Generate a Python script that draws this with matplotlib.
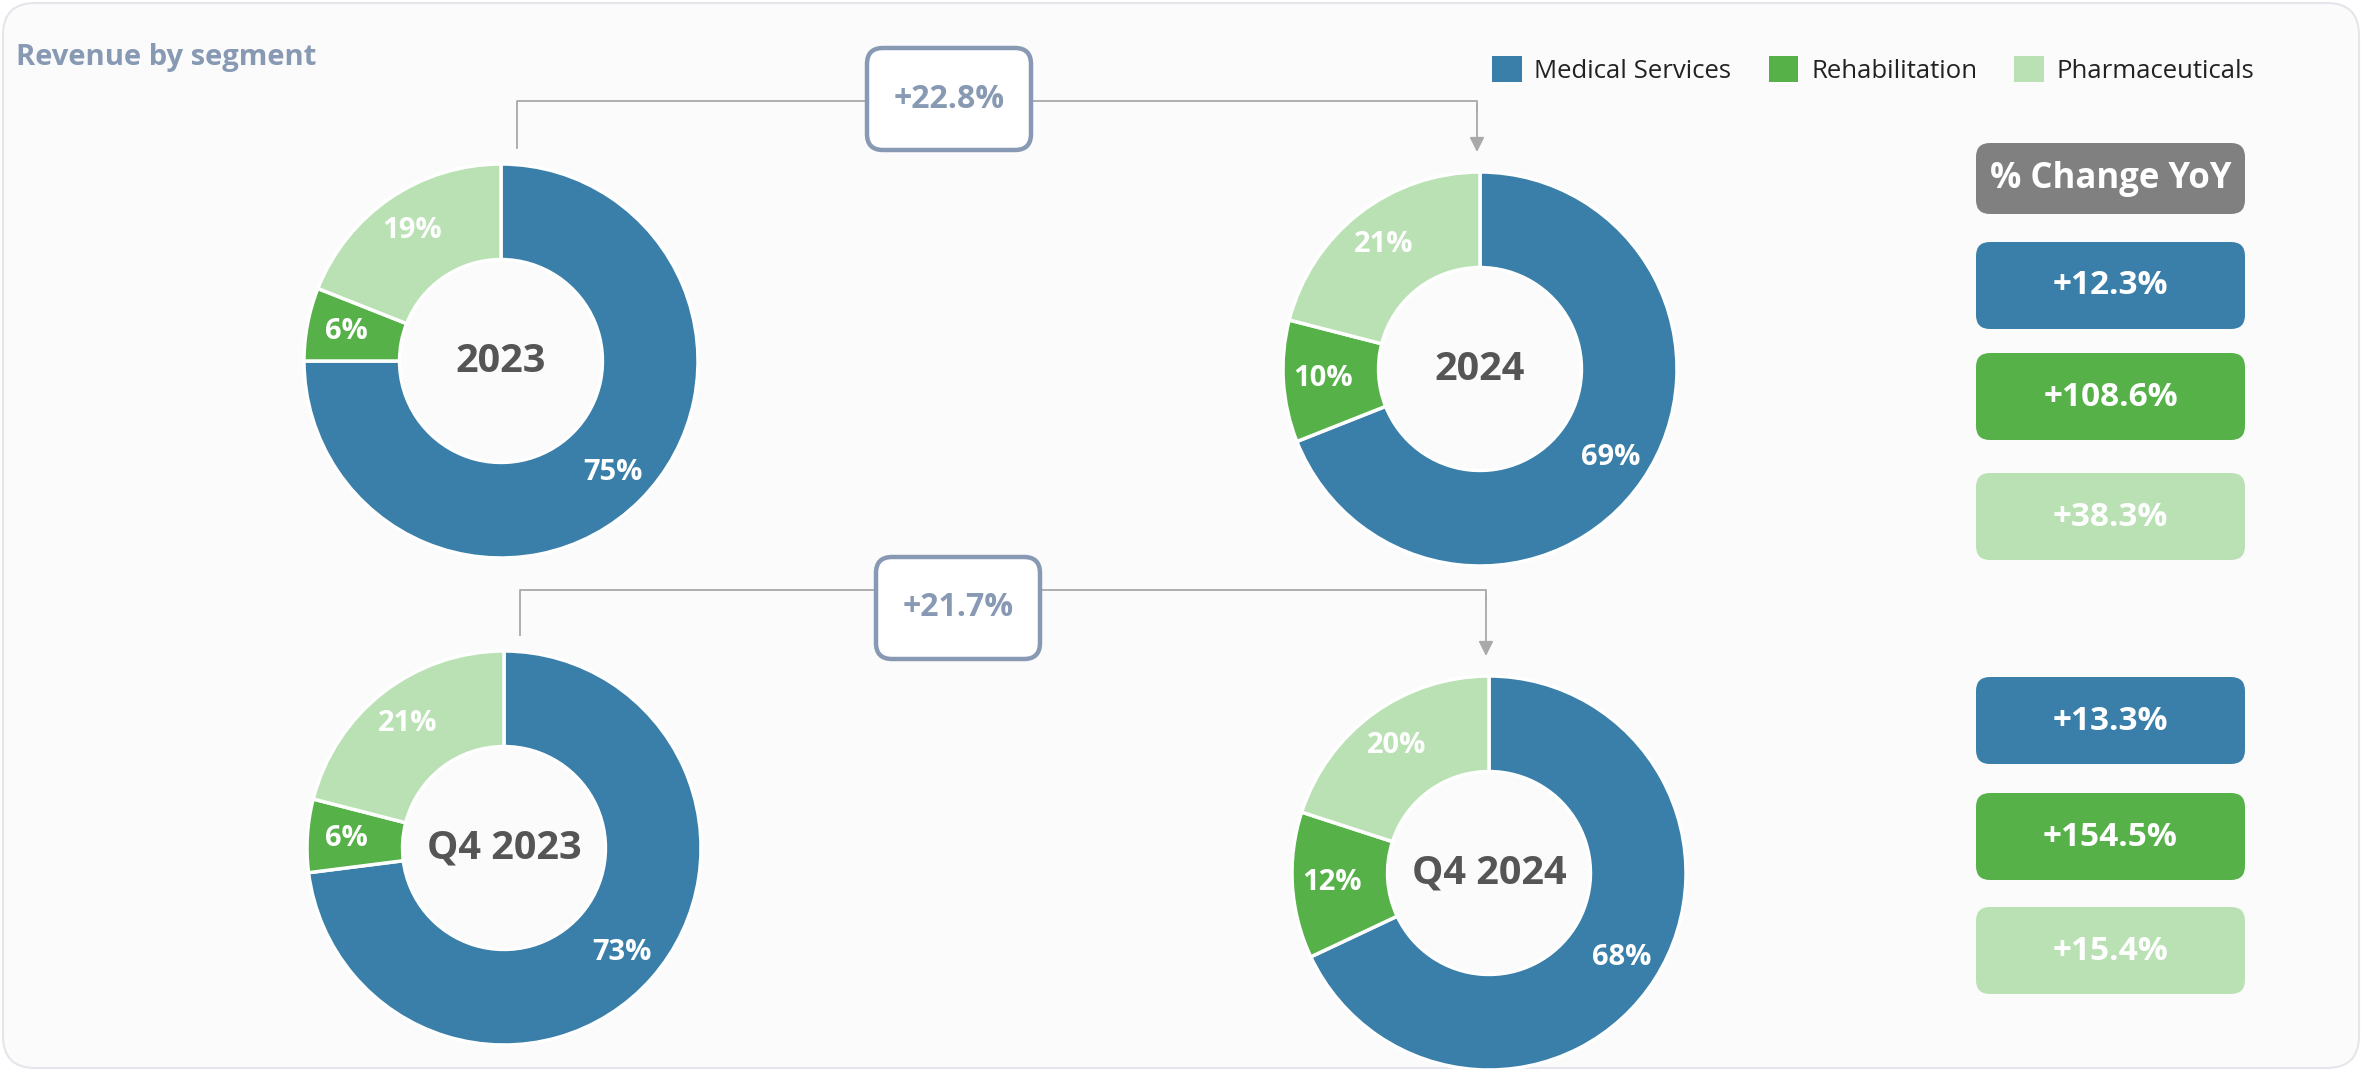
import matplotlib.pyplot as plt
from matplotlib.patches import FancyBboxPatch, Patch

plt.rcParams['font.family'] = ['Open Sans', 'DejaVu Sans']

# data
segments = ["Medical Services", "Rehabilitation", "Pharmaceuticals"]
colors = ["#3a7fa9", "#56b149", "#bae1b4"]

periods = ["2023", "2024", "Q4 2023", "Q4 2024"]
shares_2023 = [75, 6, 19]
shares_2024 = [69, 10, 21]
shares_q4_2023 = [73, 6, 21]
shares_q4_2024 = [68, 12, 20]

total_growth = [22.8, 21.7]          # 2023->2024, Q4 2023->Q4 2024
yoy_annual = [12.3, 108.6, 38.3]     # per segment
yoy_q4 = [13.3, 154.5, 15.4]

W, H = 2362, 1071
fig = plt.figure(figsize=(W / 100, H / 100), dpi=100)
fig.patch.set_facecolor("white")

# background / annotation layer in pixel units
bg = fig.add_axes([0, 0, 1, 1], zorder=0)
bg.set_xlim(0, W)
bg.set_ylim(H, 0)
bg.axis("off")
bg.add_patch(FancyBboxPatch((3, 3), W - 6, H - 6, boxstyle="round,pad=0,rounding_size=32",
                            fc="#fbfbfc", ec="#e4e6eb", lw=1.5))

slate = "#8799b3"
bg.text(16, 58, "Revenue by segment", fontsize=21, fontweight="bold", color=slate,
        ha="left", va="center")

# donuts
R = 197
centers = [(501, 361), (1480, 369), (504, 848), (1489, 873)]
all_shares = [shares_2023, shares_2024, shares_q4_2023, shares_q4_2024]

for (cx, cy), shares, label in zip(centers, all_shares, periods):
    ax = fig.add_axes([(cx - R) / W, 1 - (cy + R) / H, 2 * R / W, 2 * R / H], zorder=2)
    ax.pie(shares, colors=colors, startangle=90, counterclock=False,
           autopct=lambda p: f"{p:.0f}%", pctdistance=0.8,
           wedgeprops=dict(width=0.485, edgecolor="white", linewidth=2.5),
           textprops=dict(color="white", fontsize=21, fontweight="bold"))
    ax.set_xlim(-1, 1)
    ax.set_ylim(-1, 1)
    ax.axis("off")
    ax.text(0, 0, label, ha="center", va="center", fontsize=28.5, fontweight="bold",
            color="#555555")

# connectors with total growth boxes
line_c = "#a9a9a9"
connectors = [
    (centers[0], centers[1], 101, (949, 99)),
    (centers[2], centers[3], 590, (958, 608)),
]
for (src, dst, ly, (bx, by)), g in zip(connectors, total_growth):
    x0 = src[0] + 16
    y0 = src[1] - R - 16
    x1 = dst[0] - 3
    y1 = dst[1] - R - 20
    bg.plot([x0, x0, x1, x1], [y0, ly, ly, ly + 10], color=line_c, lw=1.3, zorder=1)
    bg.annotate("", xy=(x1, y1), xytext=(x1, ly + 5),
                arrowprops=dict(arrowstyle="-|>", color=line_c, lw=1.3, mutation_scale=22,
                                shrinkA=0, shrinkB=0), zorder=1)
    bw, bh = 164, 102
    bg.add_patch(FancyBboxPatch((bx - bw / 2, by - bh / 2), bw, bh,
                                boxstyle="round,pad=0,rounding_size=16",
                                fc="white", ec=slate, lw=3.2, zorder=3))
    bg.text(bx, by, f"+{g:.1f}%", ha="center", va="center", fontsize=23,
            fontweight="bold", color=slate, zorder=4)

# legend
handles = [Patch(facecolor=c, edgecolor="none") for c in colors]
fig.legend(handles, segments, ncol=3, loc="center left",
           bbox_to_anchor=(1492 / W, 1 - 70 / H), frameon=False, fontsize=18.5,
           handlelength=1.15, handleheight=1.15, handletextpad=0.5, columnspacing=1.45,
           borderpad=0, borderaxespad=0, labelcolor="#222222")

# % change YoY column
bxl, bwid = 1976, 269
bg.add_patch(FancyBboxPatch((bxl, 143), bwid, 71, boxstyle="round,pad=0,rounding_size=14",
                            fc="#808080", ec="none"))
bg.text(bxl + bwid / 2, 179, "% Change YoY", ha="center", va="center", fontsize=25,
        fontweight="bold", color="white")

tops = [[242, 353, 473], [677, 793, 907]]
for vals, ys in zip([yoy_annual, yoy_q4], tops):
    for v, y, c in zip(vals, ys, colors):
        bg.add_patch(FancyBboxPatch((bxl, y), bwid, 87, boxstyle="round,pad=0,rounding_size=14",
                                    fc=c, ec="none"))
        bg.text(bxl + bwid / 2, y + 44, f"+{v:.1f}%", ha="center", va="center", fontsize=24,
                fontweight="bold", color="white")

fig.savefig("out.png", dpi=100, facecolor=fig.get_facecolor())
